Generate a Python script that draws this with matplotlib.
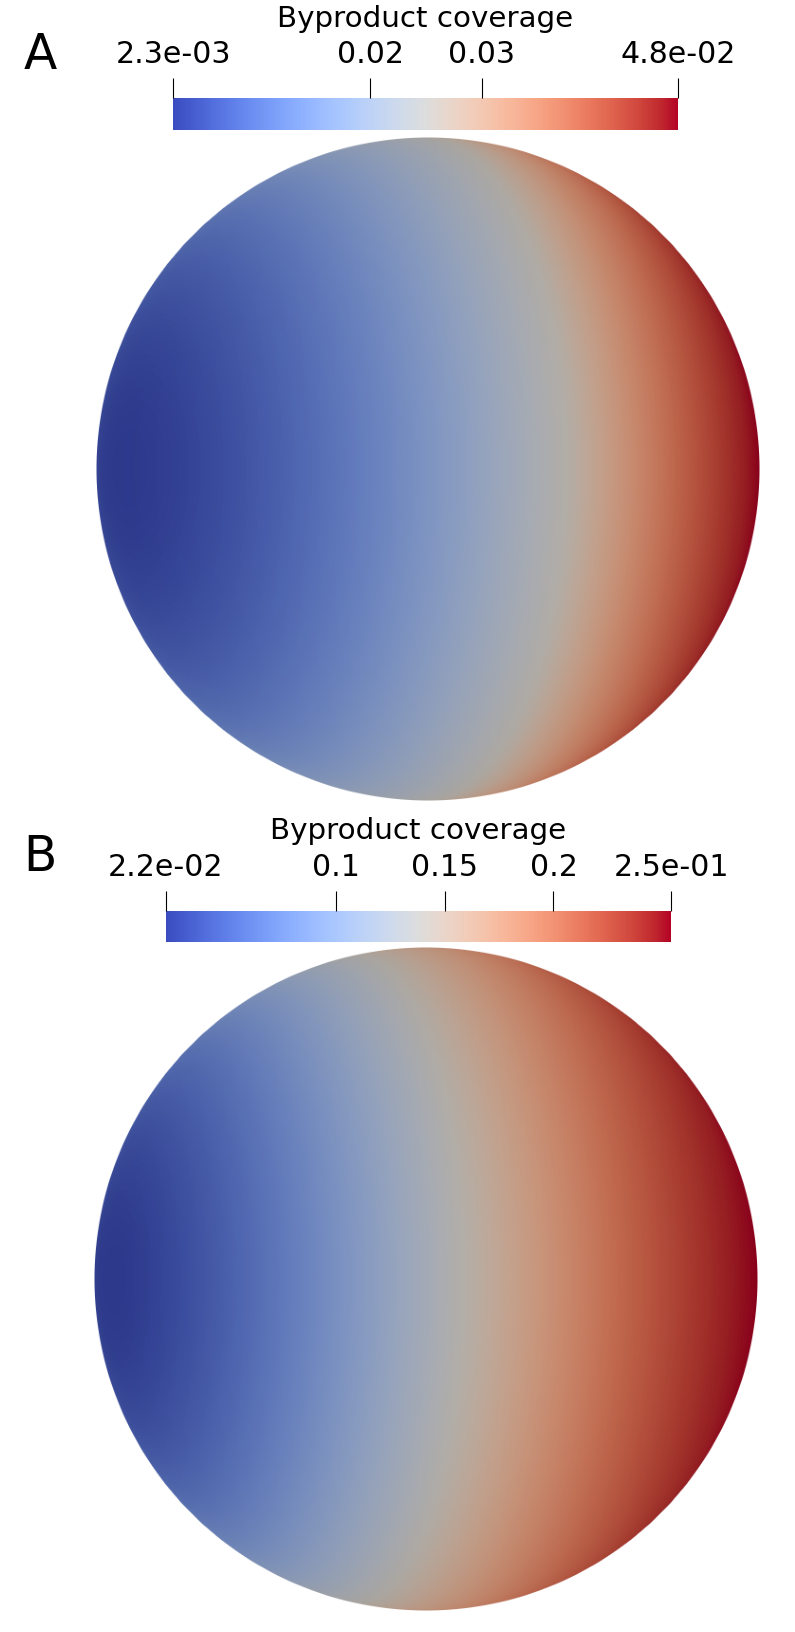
import numpy as np
import matplotlib.pyplot as plt
from matplotlib import colors, cm

W, H, DPI = 795, 1633, 100

# colour bar ranges and ticks
title = 'Byproduct coverage'
letters = ['A', 'B']
vmin_a, vmax_a = 0.0023, 0.0476
vmin_b, vmax_b = 0.022, 0.254
ticks_a = [0.0023, 0.02, 0.03, 0.0476]
labels_a = ['2.3e-03', '0.02', '0.03', '4.8e-02']
ticks_b = [0.022, 0.1, 0.15, 0.2, 0.254]
labels_b = ['2.2e-02', '0.1', '0.15', '0.2', '2.5e-01']

# shape of the field on the sphere: gradient axis tilted away from the viewer,
# t0 = position of the mid colour along that axis, k = steepness on the warm side
tilt_a, tilt_b = 25.0, 19.0      # degrees
t0_a, t0_b = 0.0, -0.21
k_a, k_b = 1.6, 1.6

plt.rcParams['font.family'] = ['DejaVu Sans']
cmap = plt.get_cmap('coolwarm')


def px(left, top, width, height):
    return [left / W, 1 - (top + height) / H, width / W, height / H]


def sphere(ax, vmin, vmax, tilt, t0, k, n=700):
    g = np.linspace(-1, 1, n)
    x, y = np.meshgrid(g, g)
    r = np.sqrt(x**2 + y**2)
    z = np.sqrt(np.clip(1 - r**2, 0, 1))
    a = np.radians(tilt)
    t = x * np.cos(a) - z * np.sin(a)
    tmax = np.cos(a)
    w = np.clip((t - t0) / (tmax - t0), 0, 1)
    s = np.where(t < t0,
                 0.5 * np.clip((t + 1) / (t0 + 1), 0, 1),
                 0.5 + 0.5 * (1 - (1 - w)**k))
    val = vmin + (vmax - vmin) * s
    rgba = cmap(colors.Normalize(vmin, vmax)(val))
    # soft light, slightly warm, a bit darker towards the rim
    shade = 0.95 + 0.07 * z
    light = np.array([0.80, 0.775, 0.745])
    rgba[..., :3] = np.clip(rgba[..., :3] * light * shade[..., None], 0, 1)
    rgba[..., 3] = np.clip((1 - r) * n / 2 + 0.5, 0, 1)
    ax.imshow(rgba, extent=[-1, 1, -1, 1], origin='lower', interpolation='antialiased')
    ax.set_xlim(-1, 1)
    ax.set_ylim(-1, 1)
    ax.axis('off')


def colorbar(fig, rect, vmin, vmax, ticks, labels):
    cax = fig.add_axes(rect)
    sm = cm.ScalarMappable(norm=colors.Normalize(vmin, vmax), cmap=cmap)
    cb = fig.colorbar(sm, cax=cax, orientation='horizontal')
    cb.outline.set_visible(False)
    cb.set_ticks(ticks)
    cb.set_ticklabels(labels)
    cax.xaxis.set_ticks_position('top')
    cax.xaxis.set_label_position('top')
    cax.tick_params(axis='x', length=14.4, width=0.8, color='black',
                    labelsize=21.6, pad=7, direction='out')
    return cb


fig = plt.figure(figsize=(W / DPI, H / DPI), dpi=DPI)

# panel A
ax_a = fig.add_axes(px(95.5, 138, 664, 664))
sphere(ax_a, vmin_a, vmax_a, tilt_a, t0_a, k_a)
colorbar(fig, px(173, 99, 505, 32), vmin_a, vmax_a, ticks_a, labels_a)
fig.text(425.5 / W, 1 - 27 / H, title, ha='center', va='baseline', fontsize=21.2)
fig.text(40 / W, 1 - 69 / H, letters[0], ha='center', va='baseline', fontsize=35)

# panel B
ax_b = fig.add_axes(px(94, 948, 664, 664))
sphere(ax_b, vmin_b, vmax_b, tilt_b, t0_b, k_b)
colorbar(fig, px(166, 912, 505, 31), vmin_b, vmax_b, ticks_b, labels_b)
fig.text(418.5 / W, 1 - 839 / H, title, ha='center', va='baseline', fontsize=21.2)
fig.text(40 / W, 1 - 871 / H, letters[1], ha='center', va='baseline', fontsize=35)

fig.savefig('out.png', dpi=DPI)
